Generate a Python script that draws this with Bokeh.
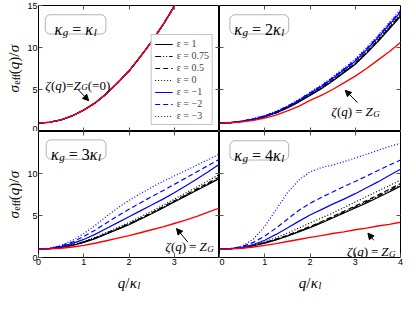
import math
from bokeh.plotting import figure
from bokeh.layouts import gridplot
from bokeh.models import (LinearAxis, FixedTicker, Label, BoxAnnotation, Arrow, Grid,
                          NormalHead, Legend, LegendItem, Range1d, CustomLabelingPolicy)
from bokeh.embed import file_html
from bokeh.resources import INLINE

# ---------------- data ----------------
q = [0.0, 0.25, 0.5, 0.75, 1.0, 1.25, 1.5, 1.75, 2.0, 2.25, 2.5, 2.75, 3.0, 3.25, 3.5, 3.75, 4.0]
q_k1 = [0.0, 0.25, 0.5, 0.75, 1.0, 1.25, 1.5, 1.75, 2.0, 2.25, 2.5, 2.75, 3.0, 3.25]

# kappa_g = kappa_l : all curves coincide with zeta = Z_G
k1_all = [1.0, 1.1, 1.39, 1.87, 2.55, 3.4, 4.5, 5.8, 7.2, 8.9, 10.7, 12.7, 14.9, 17.4]

# kappa_g = 2 kappa_l
k2_zg   = [1.0, 1.04, 1.15, 1.33, 1.6, 1.95, 2.45, 3.0, 3.7, 4.3, 5.0, 5.8, 6.6, 7.5, 8.5, 9.5, 10.6]
k2_e1   = [1.0, 1.05, 1.2, 1.42, 1.75, 2.2, 2.8, 3.5, 4.3, 5.1, 6.0, 7.0, 8.0, 9.3, 10.7, 12.2, 13.7]
k2_e075 = [1.0, 1.05, 1.2, 1.43, 1.77, 2.22, 2.83, 3.53, 4.33, 5.14, 6.05, 7.05, 8.06, 9.37, 10.78, 12.28, 13.78]
k2_e05  = [1.0, 1.05, 1.21, 1.44, 1.78, 2.24, 2.85, 3.56, 4.37, 5.18, 6.1, 7.1, 8.12, 9.44, 10.86, 12.37, 13.87]
k2_e0   = [1.0, 1.06, 1.22, 1.46, 1.81, 2.28, 2.9, 3.62, 4.44, 5.27, 6.2, 7.21, 8.25, 9.58, 11.02, 12.54, 14.05]
k2_em1  = [1.0, 1.06, 1.23, 1.48, 1.84, 2.32, 2.95, 3.69, 4.52, 5.36, 6.3, 7.33, 8.38, 9.72, 11.17, 12.7, 14.2]
k2_em2  = [1.0, 1.06, 1.24, 1.5, 1.87, 2.36, 3.0, 3.75, 4.6, 5.45, 6.4, 7.44, 8.5, 9.85, 11.3, 12.85, 14.35]
k2_em3  = [1.0, 1.07, 1.25, 1.52, 1.9, 2.4, 3.05, 3.81, 4.67, 5.53, 6.5, 7.55, 8.62, 9.98, 11.45, 13.0, 14.5]

# kappa_g = 3 kappa_l
k3_zg   = [1.0, 1.03, 1.1, 1.25, 1.45, 1.7, 2.0, 2.3, 2.6, 2.95, 3.3, 3.65, 4.05, 4.45, 4.9, 5.4, 5.9]
k3_e1   = [1.0, 1.05, 1.2, 1.45, 1.8, 2.25, 2.8, 3.35, 3.9, 4.55, 5.2, 5.9, 6.6, 7.3, 8.0, 8.7, 9.4]
k3_e075 = [1.0, 1.05, 1.21, 1.47, 1.83, 2.28, 2.84, 3.4, 3.96, 4.61, 5.27, 5.97, 6.67, 7.38, 8.08, 8.79, 9.5]
k3_e05  = [1.0, 1.05, 1.22, 1.49, 1.86, 2.32, 2.88, 3.45, 4.02, 4.67, 5.33, 6.04, 6.75, 7.46, 8.17, 8.88, 9.6]
k3_e0   = [1.0, 1.06, 1.24, 1.53, 1.92, 2.4, 2.98, 3.57, 4.16, 4.82, 5.5, 6.22, 6.94, 7.67, 8.4, 9.14, 9.9]
k3_em1  = [1.0, 1.07, 1.3, 1.68, 2.15, 2.75, 3.45, 4.15, 4.85, 5.55, 6.25, 6.95, 7.7, 8.5, 9.35, 10.2, 11.1]
k3_em2  = [1.0, 1.08, 1.38, 1.85, 2.5, 3.25, 4.1, 4.95, 5.75, 6.5, 7.25, 7.95, 8.7, 9.45, 10.2, 10.95, 11.7]
k3_em3  = [1.0, 1.1, 1.45, 2.05, 2.85, 3.8, 4.9, 5.9, 6.8, 7.6, 8.35, 9.05, 9.7, 10.35, 11.0, 11.65, 12.3]

# kappa_g = 4 kappa_l
k4_zg   = [1.0, 1.03, 1.1, 1.25, 1.45, 1.65, 1.9, 2.15, 2.4, 2.6, 2.85, 3.05, 3.3, 3.5, 3.75, 3.95, 4.2]
k4_e1   = [1.0, 1.04, 1.15, 1.4, 1.72, 2.1, 2.55, 3.05, 3.55, 4.1, 4.7, 5.3, 5.9, 6.5, 7.15, 7.8, 8.5]
k4_e075 = [1.0, 1.04, 1.16, 1.42, 1.75, 2.14, 2.6, 3.1, 3.62, 4.18, 4.79, 5.4, 6.02, 6.64, 7.3, 7.97, 8.65]
k4_e05  = [1.0, 1.05, 1.17, 1.44, 1.78, 2.18, 2.65, 3.16, 3.69, 4.26, 4.88, 5.5, 6.13, 6.77, 7.44, 8.12, 8.8]
k4_e0   = [1.0, 1.05, 1.2, 1.5, 1.88, 2.35, 2.9, 3.5, 4.1, 4.7, 5.3, 5.95, 6.6, 7.25, 7.9, 8.55, 9.2]
k4_em1  = [1.0, 1.05, 1.2, 1.55, 2.05, 2.75, 3.5, 4.3, 5.05, 5.7, 6.35, 6.95, 7.6, 8.3, 9.0, 9.75, 10.5]
k4_em2  = [1.0, 1.06, 1.3, 1.8, 2.55, 3.5, 4.55, 5.6, 6.45, 7.15, 7.8, 8.45, 9.05, 9.7, 10.35, 11.0, 11.6]
k4_em3  = [1.0, 1.06, 1.35, 2.2, 3.7, 5.7, 7.7, 9.2, 10.2, 10.7, 11.0, 11.4, 11.85, 12.3, 12.75, 13.2, 13.6]

eps_labels = ["ε = 1", "ε = 0.75", "ε = 0.5", "ε = 0", "ε = −1", "ε = −2", "ε = −3"]
x_ticks = [0, 1, 2, 3, 4]
y_ticks = [0, 5, 10, 15]

# ---------------- styles ----------------
STYLES = [("black", "solid"), ("black", "6 2 1 2 1 2"), ("black", "5 3"), ("black", "1 2"),
          ("blue", "solid"), ("blue", "5 3"), ("blue", "1 2")]
SERIF = "Liberation Serif"
SANS = "Liberation Sans"
FW, FH = 181, 126
YLW = 24                      # width of the y-label strip
LB, RB, TB, BB = 10, 4, 5, 12
XLH = 22                      # height of the x-label strip

# approximate glyph advance widths (em) for composing sub-scripted texts
W = {'κ': 0.52, 'σ': 0.52, 'ζ': 0.44, 'ε': 0.44, 'q': 0.5, 'g': 0.5, 'l': 0.28, 'e': 0.44,
     'f': 0.3, 'Z': 0.6, 'G': 0.72, '(': 0.333, ')': 0.333, '=': 0.564, '/': 0.3,
     '0': 0.5, '1': 0.5, '2': 0.5, '3': 0.5, '4': 0.5}


def tw(t, size):
    if t is None:
        return size
    return sum(W.get(c, 0.5) for c in t) * size


def rich(p, x, y, pieces, align="center", angle=0.0):
    if angle != 0:   # rotated texts are set one character at a time
        pieces = [(c, s, it, sh) for t, s, it, sh in pieces for c in ([None] if t is None else t)]
    total = sum(tw(t, s) for t, s, _, _ in pieces)
    off = -total / 2 if align == "center" else 0.0
    for t, s, ital, sh in pieces:
        if t is not None:
            kw = dict(x=x, y=y, text=t, text_font=SERIF, text_font_size=f"{s}px",
                      text_font_style="italic" if ital else "normal", text_color="black",
                      text_align="left", text_baseline="alphabetic")
            if angle == 0:
                lab = Label(x_offset=off, y_offset=sh, **kw)
            else:
                lab = Label(x_offset=-sh, y_offset=off, angle=angle, angle_units="rad", **kw)
            p.add_layout(lab)
        off += tw(t, s)


NO_LABELS = "for (const i of indices) { if (i < 0) { yield i } }"


def style_axis(ax, ticks, labeled):
    ax.ticker = FixedTicker(ticks=ticks)
    ax.major_tick_in = 4
    ax.major_tick_out = 0
    ax.minor_tick_line_color = None
    ax.axis_line_color = None
    ax.major_tick_line_color = "#555555"
    ax.major_label_text_font = SANS
    ax.major_label_text_color = "black"
    if labeled:
        ax.major_label_text_font_size = "9px"
        ax.major_label_standoff = 1
    else:
        ax.major_label_text_font_size = "0px"
        ax.major_label_standoff = 0
        ax.major_label_policy = CustomLabelingPolicy(code=NO_LABELS)


def make_fig(col, row):
    p = figure(frame_width=FW, frame_height=FH, x_range=Range1d(0, 4), y_range=Range1d(0, 15),
               output_backend="svg", toolbar_location=None,
               min_border_left=LB if col == 0 else 0, min_border_right=RB if col == 1 else 0,
               min_border_top=TB if row == 0 else 0, min_border_bottom=BB if row == 1 else 0,
               background_fill_color="white", border_fill_color="white",
               outline_line_color="black", outline_line_width=1)
    p.xgrid.visible = False
    p.ygrid.visible = False
    if row == 1:
        style_axis(p.xaxis[0], [0, 1, 2, 3] if col == 0 else x_ticks, True)
    else:
        style_axis(p.xaxis[0], [1, 2, 3], False)
    if col == 0:
        style_axis(p.yaxis[0], y_ticks if row == 0 else [0, 5, 10], True)
    else:
        style_axis(p.yaxis[0], [5, 10], False)
    top_ax = LinearAxis()
    style_axis(top_ax, [1, 2, 3], False)
    p.add_layout(top_ax, "above")
    right_ax = LinearAxis()
    style_axis(right_ax, [5, 10], False)
    p.add_layout(right_ax, "right")
    return p


def strip(fw, fh, xr, yr, left=0, right=0, top=0, bottom=0):
    f = figure(frame_width=fw, frame_height=fh, x_range=Range1d(*xr), y_range=Range1d(*yr),
               x_axis_location=None, y_axis_location=None, output_backend="svg",
               toolbar_location=None, outline_line_color=None,
               background_fill_color="white", border_fill_color="white",
               min_border_left=left, min_border_right=right,
               min_border_top=top, min_border_bottom=bottom)
    f.renderers = [r for r in f.renderers if not isinstance(r, Grid)]
    f.center = [r for r in f.center if not isinstance(r, Grid)]
    return f


def draw_curves(p, qs, series, zg):
    rs = []
    for (c, d), ys in zip(STYLES, series):
        rs.append(p.line(qs, ys, line_color=c, line_dash=d, line_width=1.2))
    p.line(qs, zg, line_color="red", line_width=1.4)
    return rs


def box_title(p, left, right, bottom, top, pieces):
    p.add_layout(BoxAnnotation(left=left, right=right, bottom=bottom, top=top,
                               fill_color="white", fill_alpha=1.0, line_color="black",
                               line_width=1, border_radius=5))
    rich(p, (left + right) / 2, bottom + 0.6, pieces)


def arrow(p, xs, ys, xe, ye):
    p.add_layout(Arrow(end=NormalHead(size=6, fill_color="black", line_color="black"),
                       x_start=xs, y_start=ys, x_end=xe, y_end=ye, line_width=1, line_color="black"))


YLABEL = [("σ", 15, True, 0), ("eff", 10, False, -3), ("(", 15, False, 0),
          ("q", 15, True, 0), (")/", 15, False, 0), ("σ", 15, True, 0)]
XLABEL = [("q", 15, True, 0), ("/", 15, False, 0), ("κ", 15, True, 0), ("l", 10, True, -3)]


def kappa_pieces(prefix):
    pcs = [("κ", 16, True, 0), ("g", 11, True, -3), (None, 4, False, 0), ("=", 16, False, 0),
           (None, 4, False, 0)]
    if prefix:
        pcs.append((prefix, 16, False, 0))
    pcs += [("κ", 16, True, 0), ("l", 11, True, -3)]
    return pcs


def zeta_pieces(spaced=True, extra=False):
    pcs = [("ζ", 13, True, 0), ("(", 13, False, 0), ("q", 13, True, 0), (")", 13, False, 0)]
    if spaced:
        pcs += [(None, 3, False, 0), ("=", 13, False, 0), (None, 3, False, 0)]
    else:
        pcs += [("=", 13, False, 0)]
    pcs += [("Z", 13, True, 0), ("G", 9, True, -2)]
    if extra:
        pcs += [("(=0)", 13, False, 0)]
    return pcs


# ---------------- panels ----------------
p1 = make_fig(0, 0)
p2 = make_fig(1, 0)
p3 = make_fig(0, 1)
p4 = make_fig(1, 1)

r1 = draw_curves(p1, q_k1, [k1_all] * 7, k1_all)
draw_curves(p2, q, [k2_e1, k2_e075, k2_e05, k2_e0, k2_em1, k2_em2, k2_em3], k2_zg)
draw_curves(p3, q, [k3_e1, k3_e075, k3_e05, k3_e0, k3_em1, k3_em2, k3_em3], k3_zg)
draw_curves(p4, q, [k4_e1, k4_e075, k4_e05, k4_e0, k4_em1, k4_em2, k4_em3], k4_zg)

legend = Legend(items=[LegendItem(label=lab, renderers=[r]) for lab, r in zip(eps_labels, r1)],
                location="bottom_right", margin=6, padding=3, spacing=1,
                glyph_width=18, glyph_height=10, label_height=10, label_standoff=4,
                label_text_font=SERIF, label_text_font_size="10px",
                border_line_color="#888888", border_line_width=1,
                background_fill_color="white", background_fill_alpha=1.0)
p1.add_layout(legend)

box_title(p1, 0.15, 1.49, 11.6, 13.9, kappa_pieces(""))
box_title(p2, 0.23, 1.53, 11.6, 13.9, kappa_pieces("2"))
box_title(p3, 0.17, 1.49, 11.7, 14.0, kappa_pieces("3"))
box_title(p4, 0.23, 1.53, 11.6, 13.9, kappa_pieces("4"))

rich(p1, 0.15, 5.5, zeta_pieces(spaced=False, extra=True), align="left")
rich(p2, 2.47, 2.37, zeta_pieces(), align="left")
rich(p3, 2.8, 1.3, zeta_pieces(), align="left")
rich(p4, 2.82, 0.7, zeta_pieces(), align="left")

arrow(p1, 0.86, 5.07, 1.11, 3.67)
arrow(p2, 3.05, 3.45, 2.78, 4.9)
arrow(p3, 3.3, 1.83, 3.05, 3.45)
arrow(p4, 3.41, 2.05, 3.28, 2.9)

# y-label strips (left of each left panel)
yl1 = strip(YLW, FH, (0, 1), (0, 15), top=TB)
yl3 = strip(YLW, FH, (0, 1), (0, 15), bottom=BB)
rich(yl1, 0.56, 7.5, YLABEL, angle=math.pi / 2)
rich(yl3, 0.56, 7.5, YLABEL, angle=math.pi / 2)

# x-label strips (below each bottom panel)
xl3 = strip(FW, XLH, (0, 4), (0, 1), left=LB)
xl4 = strip(FW, XLH, (0, 4), (0, 1), right=RB)
rich(xl3, 2.0, 0.4, XLABEL)
rich(xl4, 2.0, 0.4, XLABEL)

grid = gridplot([[yl1, p1, p2], [yl3, p3, p4], [None, xl3, xl4]], toolbar_location=None)

open("out.html", "w").write(file_html(grid, INLINE))
